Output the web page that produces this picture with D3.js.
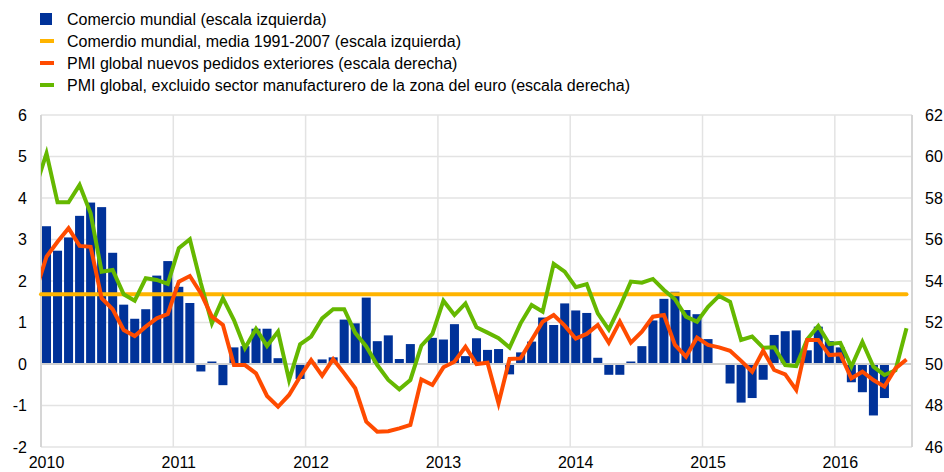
<!DOCTYPE html>
<html lang="es">
<head>
  <meta charset="UTF-8">
  <title>Comercio mundial y PMI</title>
  <script src="https://d3js.org/d3.v7.min.js"></script>
  <style>
    body { margin: 0; background: #fff; }
    text { font-family: "Liberation Sans", Arial, sans-serif; fill: #000; }
  </style>
</head>
<body>
  <script>

    // monthly data, index 0 = enero 2010
    const tradeValues = [
      3.32, 2.73, 3.05, 3.57, 3.89, 3.78, 2.68, 1.43, 1.09, 1.32, 2.13, 2.48,
      1.86, 1.47, -0.18, 0.06, -0.51, 0.40, 0.43, 0.85, 0.85, 0.14, 0.02, -0.36,
      0.04, 0.11, 0.16, 1.07, 0.98, 1.60, 0.55, 0.69, 0.12, 0.48, 0.02, 0.63,
      0.59, 0.96, 0.19, 0.62, 0.34, 0.36, -0.25, 0.28, 0.54, 1.12, 0.94, 1.46,
      1.29, 1.23, 0.15, -0.26, -0.26, 0.06, 0.43, 1.05, 1.57, 1.74, 1.30, 1.20,
      0.60, 0.02, -0.47, -0.93, -0.82, -0.38, 0.70, 0.79, 0.81, 0.33, 0.90, 0.55,
      0.40, -0.44, -0.68, -1.24, -0.82
    ];
    const tradeMean = 1.68; // media 1991-2007

    // PMI series start in diciembre 2009 (index -1)
    const pmiOrders = [
      53.5,
      55.17, 55.89, 56.54, 55.69, 55.65, 53.17, 52.64, 51.64, 51.35, 51.80, 52.20, 52.41,
      53.97, 54.24, 53.41, 52.28, 51.88, 49.95, 49.95, 49.55, 48.46, 47.94, 48.51, 49.39,
      50.19, 49.44, 50.23, 49.55, 48.83, 47.22, 46.74, 46.76, 46.90, 47.06, 49.26, 48.99,
      49.84, 50.11, 50.83, 50.00, 50.06, 48.11, 50.24, 50.27, 51.16, 52.04, 52.36, 51.85,
      51.22, 51.45, 51.88, 51.03, 52.04, 51.03, 51.56, 52.28, 52.36, 50.92, 50.35, 51.27,
      50.92, 50.80, 50.64, 50.15, 49.63, 50.64, 49.71, 49.50, 48.75, 51.16, 51.16, 50.43,
      50.47, 49.31, 49.63, 49.23, 48.91, 49.79, 50.22
    ];
    const pmiExEuro = [
      58.5,
      60.15, 57.79, 57.79, 58.63, 57.26, 54.45, 54.53, 53.36, 53.05, 54.13, 54.05, 53.86,
      55.58, 56.01, 53.89, 51.96, 53.17, 52.12, 50.76, 51.69, 50.87, 51.56, 49.23, 50.95,
      51.32, 52.20, 52.64, 52.64, 51.50, 50.85, 49.95, 49.23, 48.78, 49.23, 50.88, 51.45,
      53.05, 52.36, 52.92, 51.77, 51.51, 51.24, 50.79, 51.96, 52.84, 52.52, 54.83, 54.45,
      53.70, 53.85, 52.44, 51.66, 52.76, 53.97, 53.92, 54.10, 53.57, 53.12, 52.28, 52.04,
      52.76, 53.28, 53.00, 51.16, 51.32, 50.78, 50.81, 49.95, 49.90, 51.19, 51.83, 50.96,
      51.02, 49.87, 51.06, 49.87, 49.47, 49.70, 51.72
    ];

    const yearTicks = [2010, 2011, 2012, 2013, 2014, 2015, 2016];
    const leftTicks = [-2, -1, 0, 1, 2, 3, 4, 5, 6];
    const rightTicks = [46, 48, 50, 52, 54, 56, 58, 60, 62];

    const legendLabels = [
      "Comercio mundial (escala izquierda)",
      "Comerdio mundial, media 1991-2007 (escala izquierda)",
      "PMI global nuevos pedidos exteriores (escala derecha)",
      "PMI global, excluido sector manufacturero de la zona del euro (escala derecha)"
    ];

    const blue = "#003299", yellow = "#ffb400", orange = "#ff4b00", green = "#65b800";

    const width = 944, height = 472;
    const plot = { left: 41, right: 912, top: 115, bottom: 447 };
    const nMonths = 79; // enero 2010 .. julio 2016

    const svg = d3.select("body").append("svg")
      .attr("width", width)
      .attr("height", height);

    const x = d3.scaleLinear().domain([0, nMonths]).range([plot.left, plot.right]);
    const yLeft = d3.scaleLinear().domain([-2, 6]).range([plot.bottom, plot.top]);
    const yRight = d3.scaleLinear().domain([46, 62]).range([plot.bottom, plot.top]);
    const monthW = x(1) - x(0);

    svg.append("clipPath").attr("id", "plotClip")
      .append("rect")
      .attr("x", plot.left).attr("y", 0)
      .attr("width", plot.right - plot.left).attr("height", height);

    // horizontal gridlines
    svg.append("g")
      .selectAll("line")
      .data(leftTicks)
      .join("line")
      .attr("x1", plot.left).attr("x2", plot.right)
      .attr("y1", d => yLeft(d)).attr("y2", d => yLeft(d))
      .attr("stroke", "#e3e3e3")
      .attr("stroke-width", 1.5);

    // vertical gridlines (years)
    svg.append("g")
      .selectAll("line")
      .data(yearTicks.slice(1))
      .join("line")
      .attr("x1", d => x((d - 2010) * 12)).attr("x2", d => x((d - 2010) * 12))
      .attr("y1", plot.top).attr("y2", plot.bottom)
      .attr("stroke", "#e3e3e3")
      .attr("stroke-width", 1.5);

    // bars
    svg.append("g")
      .selectAll("rect")
      .data(tradeValues)
      .join("rect")
      .attr("x", (d, i) => x(i) + 1)
      .attr("width", monthW - 2)
      .attr("y", d => yLeft(Math.max(0, d)))
      .attr("height", d => Math.abs(yLeft(d) - yLeft(0)))
      .attr("fill", blue);

    // zero line and frame
    svg.append("line")
      .attr("x1", plot.left).attr("x2", plot.right)
      .attr("y1", yLeft(0)).attr("y2", yLeft(0))
      .attr("stroke", "#d0d0d0").attr("stroke-width", 2);

    svg.append("g")
      .selectAll("line")
      .data([plot.left, plot.right])
      .join("line")
      .attr("x1", d => d).attr("x2", d => d)
      .attr("y1", plot.top).attr("y2", plot.bottom)
      .attr("stroke", "#d6d6d6").attr("stroke-width", 2);

    // mean line
    svg.append("line")
      .attr("x1", x(0)).attr("x2", x(nMonths - 0.5))
      .attr("y1", yLeft(tradeMean)).attr("y2", yLeft(tradeMean))
      .attr("stroke", yellow)
      .attr("stroke-width", 4)
      .attr("stroke-linecap", "round");

    // PMI lines (points at month centres, first point = dic 2009)
    const pmiLine = d3.line()
      .x((d, i) => x(i - 1 + 0.5))
      .y(d => yRight(d));

    const lines = svg.append("g").attr("clip-path", "url(#plotClip)");

    lines.append("path")
      .datum(pmiExEuro)
      .attr("d", pmiLine)
      .attr("fill", "none")
      .attr("stroke", green)
      .attr("stroke-width", 4);

    lines.append("path")
      .datum(pmiOrders)
      .attr("d", pmiLine)
      .attr("fill", "none")
      .attr("stroke", orange)
      .attr("stroke-width", 4);

    // axis labels
    svg.append("g")
      .selectAll("text")
      .data(leftTicks)
      .join("text")
      .attr("x", 27)
      .attr("y", d => yLeft(d))
      .attr("dy", "0.36em")
      .attr("text-anchor", "end")
      .style("font-size", "16px")
      .text(d => d);

    svg.append("g")
      .selectAll("text")
      .data(rightTicks)
      .join("text")
      .attr("x", 925)
      .attr("y", d => yRight(d))
      .attr("dy", "0.36em")
      .style("font-size", "16px")
      .text(d => d);

    svg.append("g")
      .selectAll("text")
      .data(yearTicks)
      .join("text")
      .attr("x", d => x((d - 2010) * 12 + 0.5))
      .attr("y", 468)
      .attr("text-anchor", "middle")
      .style("font-size", "16px")
      .text(d => d);

    // legend
    const legend = svg.append("g").attr("transform", "translate(40,0)");
    const legendRows = [19, 41, 63, 85];
    const legendColors = [blue, yellow, orange, green];

    legend.selectAll("rect")
      .data(legendColors)
      .join("rect")
      .attr("x", 0)
      .attr("y", (d, i) => i === 0 ? legendRows[i] - 6 : legendRows[i] - 2)
      .attr("width", (d, i) => i === 0 ? 12 : 14)
      .attr("height", (d, i) => i === 0 ? 12 : 4)
      .attr("fill", d => d);

    legend.selectAll("text")
      .data(legendLabels)
      .join("text")
      .attr("x", 27)
      .attr("y", (d, i) => legendRows[i])
      .attr("dy", "0.36em")
      .style("font-size", "16px")
      .text(d => d);

  </script>
</body>
</html>
